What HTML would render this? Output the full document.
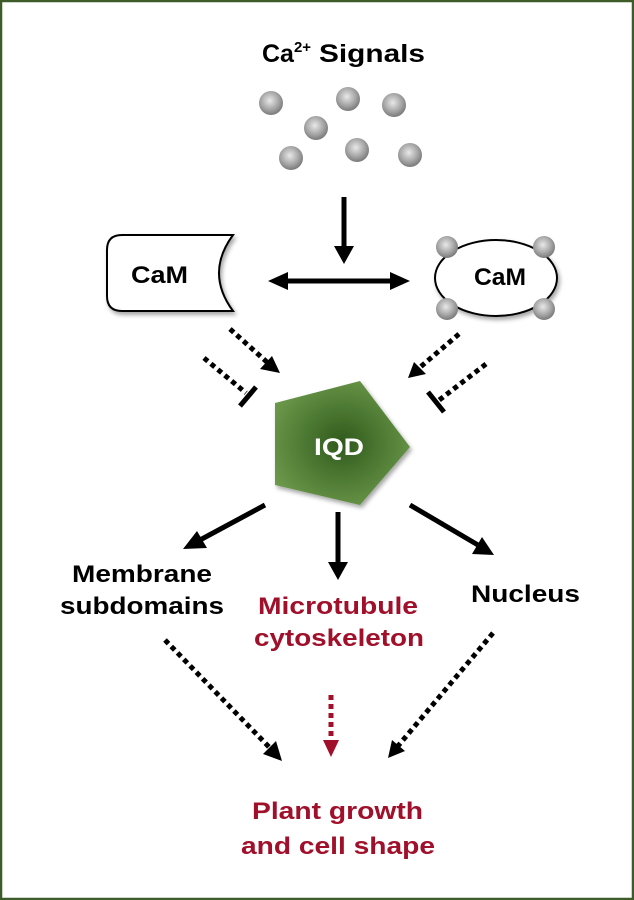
<!DOCTYPE html>
<html><head><style>
body{margin:0;background:#fff}
svg{display:block}
text{font-family:"Liberation Sans",Arial,sans-serif;font-weight:bold}
</style></head><body>
<svg width="634" height="900" viewBox="0 0 634 900" xmlns="http://www.w3.org/2000/svg">
<defs>
<radialGradient id="ball" cx="45%" cy="40%" r="60%">
<stop offset="0" stop-color="#e8e8e8"/><stop offset="0.6" stop-color="#a8a8a8"/><stop offset="1" stop-color="#7a7a7a"/>
</radialGradient>
<radialGradient id="pg" cx="50%" cy="50%" r="60%">
<stop offset="0" stop-color="#2f5a1c"/><stop offset="1" stop-color="#6e9b4c"/>
</radialGradient>
<filter id="sh"><feDropShadow dx="2" dy="3" stdDeviation="2" flood-opacity="0.35"/></filter>
</defs>
<rect x="1" y="1" width="632" height="898" fill="#fff" stroke="#3d5c2a" stroke-width="2.5"/>
<text x="262" y="62" font-size="25">Ca<tspan font-size="15" dy="-10">2+</tspan></text>
<text x="319" y="62" font-size="25" textLength="106" lengthAdjust="spacingAndGlyphs">Signals</text>
<g fill="url(#ball)">
<circle cx="271" cy="103" r="12"/><circle cx="348" cy="99" r="12"/><circle cx="394" cy="105" r="12"/>
<circle cx="316" cy="128" r="12"/><circle cx="291" cy="158" r="12"/><circle cx="357" cy="150" r="12"/><circle cx="410" cy="155" r="12"/>
</g>
<line x1="344" y1="197" x2="344" y2="248" stroke="#000" stroke-width="5"/>
<polygon points="334,246 354,246 344,264" fill="#000"/>
<line x1="285" y1="281" x2="395" y2="281" stroke="#000" stroke-width="5"/>
<polygon points="268,281 288,272 288,290" fill="#000"/>
<polygon points="410,281 390,272 390,290" fill="#000"/>
<path d="M122,235 L233,235 Q205,273 233,311 L122,311 Q107,311 107,296 L107,250 Q107,235 122,235 Z" fill="#fff" stroke="#000" stroke-width="2" filter="url(#sh)"/>
<text x="131" y="283" font-size="24" textLength="57" lengthAdjust="spacingAndGlyphs">CaM</text>
<ellipse cx="496" cy="278" rx="61" ry="38" fill="#fff" stroke="#000" stroke-width="2" filter="url(#sh)"/>
<text x="474" y="285" font-size="24" textLength="52" lengthAdjust="spacingAndGlyphs">CaM</text>
<g fill="url(#ball)">
<circle cx="447" cy="247" r="11"/><circle cx="544" cy="247" r="11"/><circle cx="447" cy="309" r="11"/><circle cx="544" cy="309" r="11"/>
</g>
<g stroke="#000" stroke-width="5" stroke-dasharray="5,4" fill="none">
<line x1="230" y1="329" x2="268" y2="363"/>
<line x1="204" y1="358" x2="246" y2="393"/>
<line x1="459" y1="334" x2="418" y2="369"/>
<line x1="486" y1="364" x2="438" y2="401"/>
<line x1="165" y1="640" x2="270" y2="748"/>
<line x1="493" y1="633" x2="398" y2="746"/>
</g>
<line x1="331" y1="695" x2="331" y2="742" stroke="#a0102a" stroke-width="5" stroke-dasharray="5,4"/>
<polygon points="323,740 339,740 331,757" fill="#a0102a"/>
<polygon points="280,373 260,369 272,356" fill="#000"/>
<polygon points="408,378 414,362 426,374" fill="#000"/>
<polygon points="282,761 263,754 276,741" fill="#000"/>
<polygon points="388,758 392,740 405,751" fill="#000"/>
<line x1="240" y1="406" x2="256" y2="387" stroke="#000" stroke-width="5"/>
<line x1="428" y1="392" x2="444" y2="412" stroke="#000" stroke-width="5"/>
<polygon points="275,403 360,381 410,447 360,505 275,485" fill="url(#pg)" filter="url(#sh)"/>
<text x="314" y="455" font-size="24" fill="#fff" textLength="50" lengthAdjust="spacingAndGlyphs">IQD</text>
<g stroke="#000" stroke-width="5">
<line x1="265" y1="505" x2="200" y2="540"/>
<line x1="338" y1="512" x2="338" y2="565"/>
<line x1="410" y1="505" x2="478" y2="545"/>
</g>
<polygon points="183,549 197,531 207,548" fill="#000"/>
<polygon points="328,562 348,562 338,580" fill="#000"/>
<polygon points="494,555 472,554 482,537" fill="#000"/>
<text x="72" y="582" font-size="24" textLength="140" lengthAdjust="spacingAndGlyphs">Membrane</text>
<text x="60" y="614" font-size="24" textLength="164" lengthAdjust="spacingAndGlyphs">subdomains</text>
<text x="258" y="614" font-size="24" fill="#a0102a" textLength="160" lengthAdjust="spacingAndGlyphs">Microtubule</text>
<text x="254" y="646" font-size="24" fill="#a0102a" textLength="170" lengthAdjust="spacingAndGlyphs">cytoskeleton</text>
<text x="471" y="602" font-size="24" textLength="109" lengthAdjust="spacingAndGlyphs">Nucleus</text>
<text x="252" y="819" font-size="24" fill="#a0102a" textLength="171" lengthAdjust="spacingAndGlyphs">Plant growth</text>
<text x="241" y="854" font-size="24" fill="#a0102a" textLength="194" lengthAdjust="spacingAndGlyphs">and cell shape</text>
</svg>
</body></html>
